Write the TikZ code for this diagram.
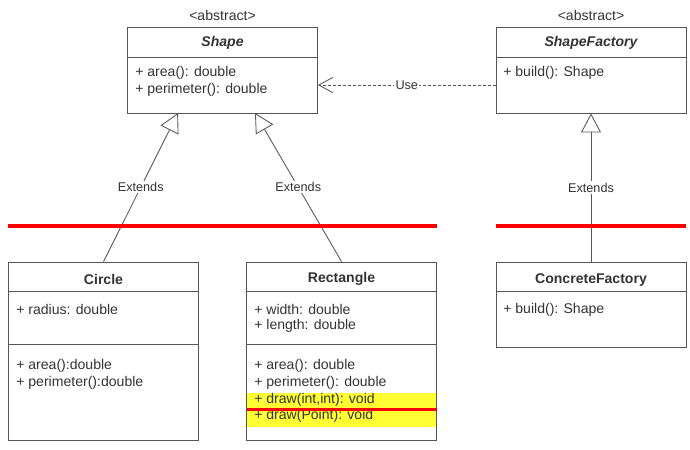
\documentclass[tikz,border=0pt]{standalone}
\usepackage{fontspec}
\setmainfont{Liberation Sans}
\usetikzlibrary{arrows.meta}
\definecolor{umlgray}{HTML}{555555}
\definecolor{umltext}{HTML}{333333}
\definecolor{hilite}{HTML}{FFFF33}

\begin{document}
\begin{tikzpicture}
        [x=0.025cm, y=-0.025cm, font=\fontsize{10}{12}\selectfont, text=umltext,
        box/.style={draw=umlgray, line width=0.6pt, minimum width=4.75cm, inner sep=0pt},
        title/.style={font=\fontsize{10}{12}\selectfont\bfseries},
        member/.style={anchor=west, inner sep=0pt},
        lbl/.style={fill=white, inner sep=1pt, font=\fontsize{9}{11}\selectfont},
        extends/.style={draw=umlgray, line width=0.6pt, -{Triangle[length=0.475cm, width=0.5cm, fill=white]}},
        use/.style={draw=umlgray, line width=0.6pt, dash pattern=on 0.075cm off 0.05cm, -{Straight Barb[length=0.35cm, width=0.38cm]}},
        redline/.style={draw=red, line width=0.1cm}]
        \useasboundingbox (0,0) rectangle (690,449);

        % class boxes
        \node[box, minimum height=2.1375cm] (shape) at (222.5,70.25) {};
        \node[box, minimum height=2.1375cm] (factory) at (591,70.25) {};
        \node[box, minimum height=4.4625cm] (circle) at (103.5,351.25) {};
        \node[box, minimum height=4.4625cm] (rect) at (341.5,351.25) {};
        \node[box, minimum height=2.1375cm] (concrete) at (591,304.75) {};

        \fill[hilite] (247,392.5) rectangle (436,426.5);

        \foreach \b in {shape,factory,circle,rect,concrete}
            \draw[umlgray, line width=0.6pt] ([yshift=-0.75cm]\b.north west) -- ([yshift=-0.75cm]\b.north east);
        \foreach \b in {circle,rect}
            \draw[umlgray, line width=0.6pt] ([yshift=-2.075cm]\b.north west) -- ([yshift=-2.075cm]\b.north east);

        % Shape
        \node (shapeStereo) at (222.5,15) {<abstract>};
        \node[title, font=\fontsize{10}{12}\selectfont\bfseries\itshape] (shapeName) at (222.5,43) {Shape};
        \node[member] (shapeArea) at (135,73) {+ area(): double};
        \node[member] (shapePer) at (135,90) {+ perimeter(): double};

        % ShapeFactory
        \node (factoryStereo) at (591,15) {<abstract>};
        \node[title, font=\fontsize{10}{12}\selectfont\bfseries\itshape] (factoryName) at (591,43) {ShapeFactory};
        \node[member] (factoryBuild) at (503,73) {+ build(): Shape};

        % Circle
        \node[title] (circleName) at (103.5,279) {Circle};
        \node[member] (circleRad) at (16,309) {+ radius: double};
        \node[member] (circleArea) at (16,366) {+ area():double};
        \node[member] (circlePer) at (16,383) {+ perimeter():double};

        % Rectangle
        \node[title] (rectName) at (341.5,279) {Rectangle};
        \node[member] (rectWid) at (254,309) {+ width: double};
        \node[member] (rectLen) at (254,326) {+ length: double};
        \node[member] (rectArea) at (254,366) {+ area(): double};
        \node[member] (rectPer) at (254,383) {+ perimeter(): double};
        \node[member] (rectDrawA) at (254,399.5) {+ draw(int,int): void};
        \node[member] (rectDrawB) at (254,416) {+ draw(Point): void};
        \draw[red, line width=0.075cm] (246.5,409.3) -- (436.5,409.3);

        % ConcreteFactory
        \node[title] (concreteName) at (591,280) {ConcreteFactory};
        \node[member] (concreteBuild) at (503,310) {+ build(): Shape};

        % relations
        \coordinate (shapeA) at (178,113);
        \coordinate (shapeB) at (255,113);
        \draw[extends] (circle.north) -- node[lbl] {Extends} (shapeA);
        \draw[extends] (rect.north) -- node[lbl] {Extends} (shapeB);
        \draw[extends] (concrete.north) -- node[lbl] {Extends} (factory.south);
        \draw[use] ([yshift=-0.37cm]factory.west) -- node[lbl] {Use} ([yshift=-0.37cm]shape.east);

        \draw[redline] (8,226) -- (437,226);
        \draw[redline] (496,226) -- (686,226);
\end{tikzpicture}
\end{document}
